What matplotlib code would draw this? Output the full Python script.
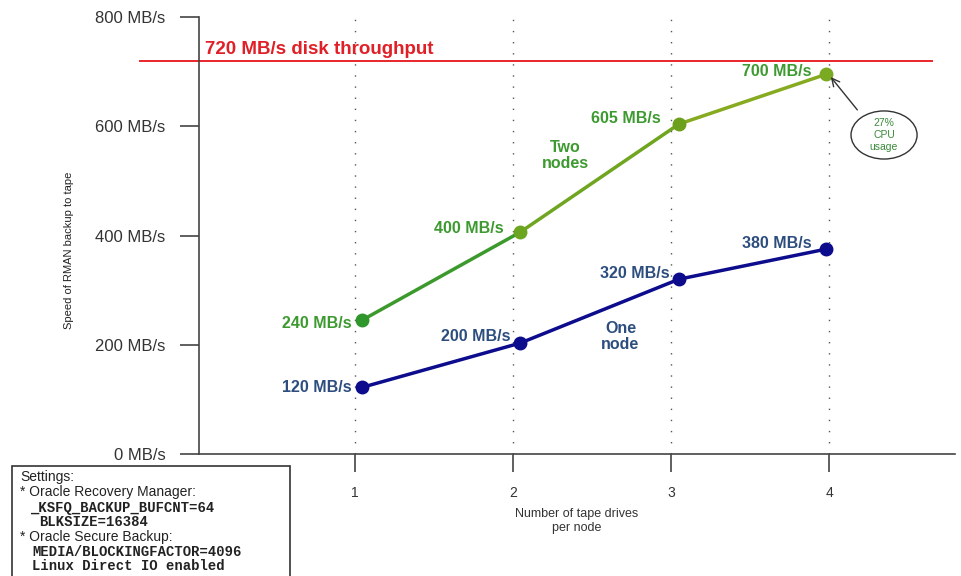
import numpy as np
import matplotlib.pyplot as plt
from matplotlib.patches import Ellipse, Rectangle

plt.rcParams['font.family'] = ['Liberation Sans', 'DejaVu Sans']

# data
drives = [1, 2, 3, 4]
drive_pos = [1.045, 2.045, 3.05, 3.98]
one_node = [122, 203, 320, 375]
two_nodes = [245, 406, 604, 695]
one_labels = ['120 MB/s', '200 MB/s', '320 MB/s', '380 MB/s']
two_labels = ['240 MB/s', '400 MB/s', '605 MB/s', '700 MB/s']
disk_limit = 720
yticks = [0, 200, 400, 600, 800]
ytick_labels = ['0 MB/s', '200 MB/s', '400 MB/s', '600 MB/s', '800 MB/s']
settings = ['Settings:', '* Oracle Recovery Manager:', '_KSFQ_BACKUP_BUFCNT=64',
            'BLKSIZE=16384', '* Oracle Secure Backup:',
            'MEDIA/BLOCKINGFACTOR=4096', 'Linux Direct IO enabled']
settings_mono = [False, False, True, True, False, True, True]

fig = plt.figure(figsize=(9.62, 5.76), dpi=100)
ax = fig.add_axes([199/962, 1-454/576, 756/962, 437/576])
ax.set_xlim(0.013, 4.797)
ax.set_ylim(0, 800)

for s in ['top', 'right']:
    ax.spines[s].set_visible(False)
for s in ['left', 'bottom']:
    ax.spines[s].set_color('#444444')
    ax.spines[s].set_linewidth(1.2)

ax.set_yticks(yticks)
ax.set_yticklabels(ytick_labels, fontsize=12, color='#333333')
ax.set_xticks(drives)
ax.set_xticklabels([str(d) for d in drives], fontsize=10, color='#333333')
ax.tick_params(axis='y', length=14, width=1.2, color='#444444', pad=10)
ax.tick_params(axis='x', length=13, width=1.2, color='#444444', pad=10)

for d in drives:
    ax.axvline(d, color='#555555', lw=1, ls=(0, (1, 7)), zorder=1)

ax.set_ylabel('Speed of RMAN backup to tape', fontsize=8, color='#222222')
ax.yaxis.set_label_coords(-0.165, 0.467)
ax.set_xlabel('Number of tape drives\nper node', fontsize=9, color='#333333', labelpad=6)

# disk throughput limit
ax.plot([-0.361, 4.652], [disk_limit, disk_limit], color='#e8262c', lw=1.4, clip_on=False, zorder=2)
ax.text(0.05, disk_limit + 5, '720 MB/s disk throughput', color='#e01f26',
        fontsize=13.5, fontweight='bold', va='bottom', ha='left')

# two nodes line (colour goes from dark green to yellow green)
seg_colors = ['#3b9a2b', '#6fa51f', '#86ab20']
for i in range(3):
    ax.plot(drive_pos[i:i+2], two_nodes[i:i+2], color=seg_colors[i], lw=2.5, zorder=3)
mk_colors = ['#2f962c', '#6ca520', '#6b9f1c', '#7aaa22']
for i in range(4):
    ax.plot(drive_pos[i], two_nodes[i], 'o', color=mk_colors[i], ms=9, zorder=4)

# one node line
ax.plot(drive_pos, one_node, color='#0c0c8c', lw=2.5, marker='o', ms=9, zorder=3)

one_off = [(-10, 0), (-10, 7), (-9, 6), (-14, 6)]
two_off = [(-10, -3), (-16, 4), (-18, 6), (-14, 3)]
for i in range(4):
    ax.annotate(one_labels[i], (drive_pos[i], one_node[i]), xytext=one_off[i],
                textcoords='offset pixels', ha='right', va='center',
                fontsize=11.5, fontweight='bold', color='#2c4d7e')
    ax.annotate(two_labels[i], (drive_pos[i], two_nodes[i]), xytext=two_off[i],
                textcoords='offset pixels', ha='right', va='center',
                fontsize=11.5, fontweight='bold', color='#3d9a30')

ax.text(2.33, 547, 'Two\nnodes', ha='center', va='center', fontsize=11.5,
        fontweight='bold', color='#3d9a30', linespacing=1.1)
ax.text(2.68, 215, 'One\nnode', ha='center', va='center', fontsize=11.5,
        fontweight='bold', color='#2c4d7e', linespacing=1.1)

# CPU usage callout
ax.add_patch(Ellipse((4.348, 584), 0.418, 88, facecolor='white', edgecolor='#333333',
                     lw=1, clip_on=False, zorder=5))
ax.text(4.348, 584, '27%\nCPU\nusage', ha='center', va='center', fontsize=7.5,
        color='#3a8a3a', zorder=6, linespacing=1.2)
ax.annotate('', xy=(4.0, 694), xytext=(4.19, 626),
            arrowprops=dict(arrowstyle='->', color='#333333', lw=1, mutation_scale=14),
            zorder=5, annotation_clip=False)

# settings box
fig.patches.append(Rectangle((12/962, -0.02), 278/962, 1-466/576+0.02,
                             transform=fig.transFigure, facecolor='white',
                             edgecolor='#333333', lw=1.2))
rows = [477, 492, 508, 522, 537, 552, 566]
xs = [20, 20, 30, 39, 20, 32, 32]
for line, mono, y, x in zip(settings, settings_mono, rows, xs):
    if mono:
        fig.text(x/962, 1 - y/576, line, fontsize=10, fontweight='bold',
                 family='Liberation Mono', color='#222222', va='center')
    else:
        fig.text(x/962, 1 - y/576, line, fontsize=10, color='#222222', va='center')

fig.savefig('out.png', dpi=100)
